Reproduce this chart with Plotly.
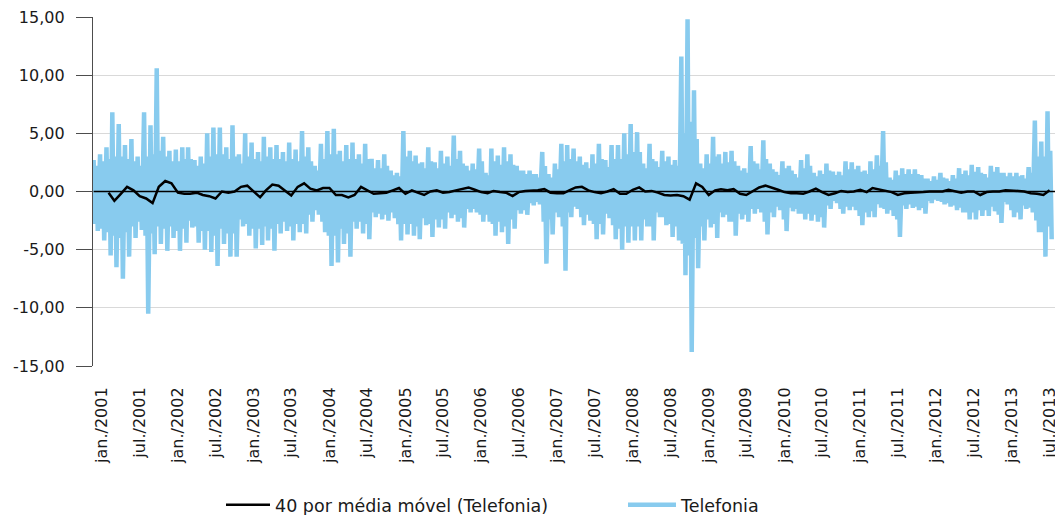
import pandas as pd
import plotly.graph_objects as go

# Monthly envelope of the daily series "Telefonia", dez/2000 .. jul/2013
# hi/lo: monthly extreme values; core_hi/core_lo: edges of the dense band in that month
hi_values = [2.7, 3.2, 3.8, 6.8, 5.8, 4.0, 4.5, 3.0, 6.8, 5.7, 10.6, 4.7, 3.5,
             3.6, 3.8, 3.8, 2.7, 3.0, 5.0, 5.5, 5.5, 3.8, 5.7, 3.2, 5.0,
             4.2, 3.4, 4.7, 3.8, 4.0, 3.4, 4.2, 3.6, 5.2, 3.8, 2.2, 4.1,
             5.2, 5.4, 3.5, 4.0, 4.2, 3.2, 4.1, 2.8, 2.7, 3.2, 1.8, 1.6,
             5.2, 3.5, 3.1, 2.5, 3.8, 2.5, 3.5, 3.0, 4.8, 3.5, 2.2, 2.4,
             3.7, 1.6, 3.7, 3.1, 3.8, 3.2, 2.2, 1.8, 1.8, 1.5, 3.4, 1.5,
             2.4, 4.1, 4.0, 3.7, 3.0, 2.5, 3.2, 4.1, 2.7, 4.0, 4.0, 5.0,
             5.8, 5.1, 2.4, 4.1, 2.6, 3.5, 3.0, 2.7, 11.6, 14.8, 8.7, 2.4,
             3.2, 4.7, 3.2, 3.4, 3.5, 2.2, 2.0, 3.9, 2.4, 4.4, 2.4, 1.7,
             2.6, 2.2, 1.5, 2.7, 3.2, 1.6, 1.8, 2.4, 1.7, 1.7, 2.6, 2.5,
             2.2, 1.8, 2.6, 3.1, 5.2, 1.2, 1.8, 2.0, 1.9, 1.9, 1.4, 1.1,
             1.3, 1.6, 1.1, 1.4, 2.0, 1.8, 2.3, 2.1, 1.5, 2.2, 2.1, 1.6,
             1.6, 1.6, 1.4, 2.1, 6.1, 4.3, 6.9]
lo_values = [-3.4, -4.2, -5.5, -6.5, -7.5, -5.6, -4.0, -3.3, -10.5, -5.4, -4.5, -5.1, -4.0,
             -5.1, -4.4, -3.1, -4.4, -5.0, -5.2, -6.4, -4.5, -5.6, -5.6, -3.0, -3.8,
             -4.9, -4.6, -4.2, -5.1, -3.6, -3.4, -4.2, -3.5, -3.6, -2.6, -2.0, -3.5,
             -6.4, -6.1, -4.5, -5.6, -3.2, -3.6, -4.1, -2.2, -2.4, -2.5, -2.3, -4.2,
             -3.7, -3.8, -4.1, -2.9, -3.9, -3.1, -3.2, -2.3, -2.6, -3.1, -1.8, -1.8,
             -2.6, -2.6, -3.8, -3.5, -4.5, -3.2, -1.9, -2.0, -1.2, -1.1, -6.2, -3.7,
             -2.2, -6.8, -2.2, -1.5, -2.9, -2.5, -4.1, -3.7, -2.3, -4.1, -5.0, -4.4,
             -4.2, -4.2, -3.0, -4.2, -2.2, -2.9, -3.9, -4.2, -7.2, -13.8, -6.6, -4.2,
             -3.1, -4.0, -2.2, -2.6, -3.8, -2.4, -2.6, -1.9, -1.8, -3.7, -2.2, -1.6,
             -3.4, -1.7, -1.9, -2.4, -2.5, -2.6, -3.1, -1.5, -1.0, -1.9, -1.6, -1.6,
             -2.9, -2.2, -2.2, -1.4, -1.9, -2.1, -3.9, -1.5, -1.4, -1.6, -1.9, -1.0,
             -0.8, -1.1, -1.3, -1.6, -1.8, -2.4, -2.4, -2.1, -2.1, -1.7, -2.7, -1.1,
             -2.2, -2.4, -1.5, -1.8, -3.5, -5.6, -4.1]
core_hi = [2.2, 2.6, 2.8, 3.0, 3.0, 2.8, 2.6, 2.2, 3.0, 3.2, 3.5, 3.0, 2.6,
           2.6, 2.8, 2.8, 2.2, 2.4, 3.0, 3.2, 3.2, 2.8, 3.0, 2.4, 3.0,
           2.8, 2.6, 3.0, 2.8, 2.8, 2.6, 2.8, 2.6, 3.0, 2.6, 1.8, 2.8,
           3.2, 3.2, 2.6, 2.8, 2.8, 2.4, 2.8, 2.0, 2.0, 2.2, 1.4, 1.3,
           3.0, 2.6, 2.4, 2.0, 2.6, 2.0, 2.4, 2.2, 2.8, 2.4, 1.8, 1.9,
           2.6, 1.4, 2.6, 2.3, 2.6, 2.3, 1.8, 1.5, 1.5, 1.2, 2.2, 1.2,
           1.9, 2.6, 2.8, 2.6, 2.3, 2.0, 2.4, 2.8, 2.1, 2.8, 2.8, 3.2,
           3.4, 3.4, 2.0, 2.8, 2.1, 2.6, 2.3, 2.2, 5.0, 6.0, 4.5, 2.0,
           2.4, 3.0, 2.4, 2.5, 2.6, 1.8, 1.6, 2.6, 1.9, 2.8, 1.9, 1.4,
           2.0, 1.8, 1.2, 2.0, 2.2, 1.3, 1.5, 1.8, 1.4, 1.4, 1.9, 1.9,
           1.7, 1.5, 1.9, 2.2, 2.5, 1.0, 1.4, 1.5, 1.5, 1.5, 1.1, 0.9,
           1.0, 1.2, 0.9, 1.1, 1.5, 1.4, 1.7, 1.6, 1.2, 1.7, 1.6, 1.3,
           1.3, 1.3, 1.1, 1.6, 3.0, 3.0, 3.5]
core_lo = [-2.8, -3.2, -3.5, -3.8, -4.0, -3.5, -3.0, -2.6, -3.8, -3.6, -3.0, -3.2, -3.0,
           -3.4, -3.2, -2.5, -3.0, -3.4, -3.4, -3.8, -3.2, -3.6, -3.6, -2.4, -2.8,
           -3.2, -3.2, -3.0, -3.2, -2.8, -2.6, -3.0, -2.8, -2.8, -2.0, -1.6, -2.6,
           -3.8, -3.8, -3.2, -3.6, -2.6, -2.6, -2.8, -1.8, -1.9, -2.0, -1.8, -2.8,
           -2.8, -2.8, -3.0, -2.3, -2.8, -2.4, -2.4, -1.8, -2.0, -2.3, -1.5, -1.5,
           -2.0, -2.0, -2.8, -2.6, -3.0, -2.4, -1.6, -1.6, -1.0, -0.9, -2.6, -2.4,
           -1.8, -3.0, -1.8, -1.3, -2.2, -2.0, -2.8, -2.8, -1.9, -2.9, -3.2, -3.0,
           -3.0, -3.0, -2.4, -3.0, -1.8, -2.2, -2.8, -3.0, -4.5, -5.5, -4.0, -3.0,
           -2.4, -2.8, -1.8, -2.0, -2.6, -1.9, -2.0, -1.5, -1.5, -2.6, -1.8, -1.3,
           -2.4, -1.4, -1.5, -1.9, -1.9, -2.0, -2.2, -1.2, -0.8, -1.5, -1.3, -1.3,
           -2.1, -1.8, -1.7, -1.1, -1.5, -1.6, -2.4, -1.2, -1.1, -1.3, -1.4, -0.8,
           -0.7, -0.9, -1.0, -1.2, -1.4, -1.8, -1.8, -1.6, -1.6, -1.3, -2.0, -0.9,
           -1.6, -1.8, -1.2, -1.4, -2.5, -3.5, -3.0]
# 40-period moving average, one value per month from fev/2001 to jul/2013
ma_values = [-0.1, -0.8, -0.2, 0.4, 0.1, -0.4, -0.6, -1.0, 0.4, 0.9, 0.7,
             -0.1, -0.2, -0.2, -0.1, -0.3, -0.4, -0.6, 0.0, -0.1, 0.0, 0.4, 0.5,
             0.0, -0.5, 0.1, 0.6, 0.5, 0.1, -0.35, 0.4, 0.7, 0.25, 0.1, 0.3,
             0.3, -0.3, -0.3, -0.5, -0.3, 0.4, 0.1, -0.2, -0.15, -0.1, 0.1, 0.3,
             -0.2, 0.1, -0.1, -0.3, 0.0, 0.1, -0.1, -0.05, 0.1, 0.25, 0.35, 0.15,
             -0.05, -0.15, 0.05, -0.05, -0.1, -0.4, -0.05, 0.05, 0.05, 0.1, 0.2, -0.1,
             -0.15, -0.15, 0.1, 0.35, 0.4, 0.1, -0.05, -0.15, 0.0, 0.2, -0.2, -0.2,
             0.15, 0.35, 0.0, 0.05, -0.1, -0.3, -0.35, -0.3, -0.4, -0.7, 0.7, 0.4,
             -0.3, 0.1, 0.2, 0.1, 0.2, -0.2, -0.3, 0.05, 0.35, 0.5, 0.35, 0.15,
             -0.05, -0.15, -0.15, -0.2, 0.0, 0.25, -0.05, -0.3, -0.15, 0.05, -0.05, 0.0,
             0.15, -0.05, 0.3, 0.2, 0.05, -0.05, -0.3, -0.15, -0.1, -0.1, -0.05, 0.0,
             0.0, 0.0, 0.15, 0.0, -0.1, 0.0, 0.0, -0.3, -0.05, 0.0, 0.0, 0.1,
             0.1, 0.05, 0.0, -0.15, -0.2, -0.3, 0.1]

months = pd.date_range("2000-12-01", periods=len(hi_values), freq="MS")
ma_months = pd.date_range("2001-02-01", periods=len(ma_values), freq="MS")

tick_dates = pd.date_range("2001-01-01", "2013-07-01", freq="6MS")
tick_text = [("jan./" if d.month == 1 else "jul./") + str(d.year) for d in tick_dates]
y_ticks = [15, 10, 5, 0, -5, -10, -15]
y_text = [f"{v:.2f}".replace(".", ",") for v in y_ticks]

# zig-zag through the monthly readings so the thick line fills the band like the daily data
x_blue, y_blue = [], []
offsets = [-10, -3, 3, 10]
for d, h, ch, cl, l in zip(months, hi_values, core_hi, core_lo, lo_values):
    for off, v in zip(offsets, [h, cl, ch, l]):
        x_blue.append(d + pd.Timedelta(days=off))
        y_blue.append(v)

FONT = "DejaVu Sans"
TXT = "#1a1a1a"
fig = go.Figure()
fig.add_trace(go.Scatter(x=x_blue, y=y_blue, mode="lines", name="Telefonia",
                         line=dict(color="#88CBEE", width=4.5), legend="legend2"))
fig.add_trace(go.Scatter(x=ma_months, y=ma_values, mode="lines",
                         name="40 por média móvel (Telefonia)",
                         line=dict(color="#000000", width=2.5), legend="legend"))

x_start = pd.Timestamp("2000-11-18")
x_end = pd.Timestamp("2013-07-27")
fig.add_shape(type="line", xref="x", yref="y", x0=x_blue[0], x1=x_end, y0=0, y1=0,
              line=dict(color="#000000", width=1.3), layer="above")

fig.update_layout(
    width=1055, height=515,
    margin=dict(l=93, r=0, t=17, b=149, autoexpand=False),
    plot_bgcolor="white", paper_bgcolor="white",
    font=dict(family=FONT, size=16, color=TXT),
    xaxis=dict(type="date", range=[x_start, x_end], tickvals=tick_dates, ticktext=tick_text,
               tickangle=-90, showgrid=False, showline=False, zeroline=False,
               ticks="outside", ticklen=14, tickcolor="rgba(0,0,0,0)", ticklabelstandoff=0,
               ticklabeloverflow="allow",
               tickfont=dict(family=FONT, size=16, color=TXT)),
    yaxis=dict(range=[-15, 15], tickvals=y_ticks, ticktext=y_text, showgrid=True,
               gridcolor="#d9d9d9", gridwidth=1.3, showline=True, linecolor="#4d4d4d",
               linewidth=1.3, ticks="outside", ticklen=16, tickcolor="#4d4d4d", tickwidth=1.3,
               zeroline=False, ticklabelstandoff=8, tickfont=dict(family=FONT, size=16, color=TXT)),
    legend=dict(orientation="h", x=(221 - 93) / 962, xanchor="left", y=-0.398, yanchor="middle",
                font=dict(family=FONT, size=17.5, color=TXT), bgcolor="rgba(0,0,0,0)", itemwidth=44),
    legend2=dict(orientation="h", x=(623 - 93) / 962, xanchor="left", y=-0.398, yanchor="middle",
                 font=dict(family=FONT, size=17.5, color=TXT), bgcolor="rgba(0,0,0,0)", itemwidth=48),
    showlegend=True,
)

fig.write_html("out.html", config={"displayModeBar": False},
               post_script="document.body.style.margin='0';")
